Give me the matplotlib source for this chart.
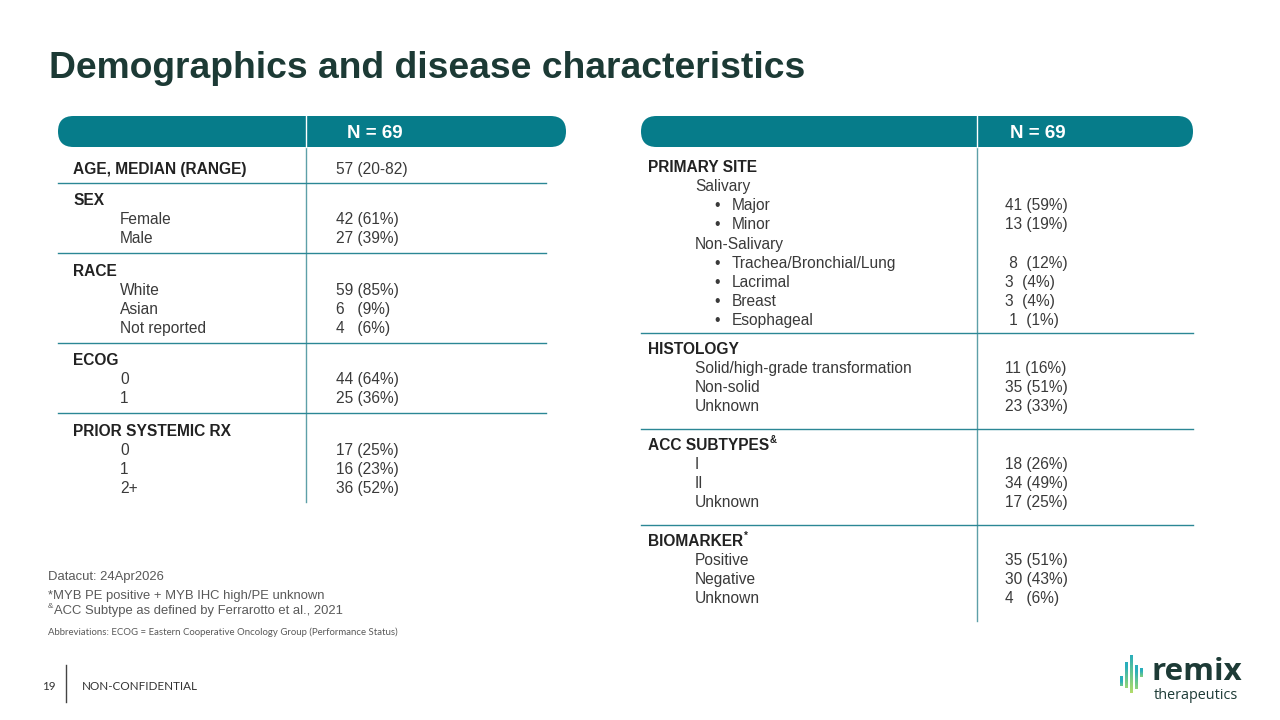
import numpy as np
import matplotlib.pyplot as plt
from matplotlib.patches import FancyBboxPatch

# ---- table contents ----
n_label = "N = 69"

age_label = "AGE, MEDIAN (RANGE)"
age_value = "57 (20-82)"
sex_labels = ["Female", "Male"]
sex_values = ["42 (61%)", "27 (39%)"]
race_labels = ["White", "Asian", "Not reported"]
race_values = ["59 (85%)", "6   (9%)", "4   (6%)"]
ecog_labels = ["0", "1"]
ecog_values = ["44 (64%)", "25 (36%)"]
prior_labels = ["0", "1", "2+"]
prior_values = ["17 (25%)", "16 (23%)", "36 (52%)"]

salivary_labels = ["Major", "Minor"]
salivary_values = ["41 (59%)", "13 (19%)"]
nonsalivary_labels = ["Trachea/Bronchial/Lung", "Lacrimal", "Breast", "Esophageal"]
nonsalivary_values = [" 8  (12%)", "3  (4%)", "3  (4%)", " 1  (1%)"]
histology_labels = ["Solid/high-grade transformation", "Non-solid", "Unknown"]
histology_values = ["11 (16%)", "35 (51%)", "23 (33%)"]
acc_labels = ["I", "II", "Unknown"]
acc_values = ["18 (26%)", "34 (49%)", "17 (25%)"]
bio_labels = ["Positive", "Negative", "Unknown"]
bio_values = ["35 (51%)", "30 (43%)", "4   (6%)"]

footnotes = ["*MYB PE positive + MYB IHC high/PE unknown",
             "ACC Subtype as defined by Ferrarotto et al., 2021"]
abbrev = "Abbreviations: ECOG = Eastern Cooperative Oncology Group (Performance Status)"

# ---- styles ----
TEAL = "#067c8a"
LINE = "#2b8795"
TITLE_C = "#1c3a35"
HEAD_C = "#222222"
BODY_C = "#3a3a3a"
FONT = ["Liberation Sans", "DejaVu Sans"]
FS = 11.2
STEP = 19
DY = 1.5  # nudge so text sits like the slide

plt.rcParams['font.family'] = FONT

fig = plt.figure(figsize=(12.8, 7.2), dpi=100)
ax = fig.add_axes([0, 0, 1, 1])
ax.set_xlim(0, 1280)
ax.set_ylim(720, 0)
ax.axis('off')

ax.text(49, 68, "Demographics and disease characteristics", fontsize=26.8,
        fontweight='bold', color=TITLE_C, va='center', ha='left')


def header_bar(x0, x1, xdiv, xtxt):
    ax.add_patch(FancyBboxPatch((x0, 116), x1 - x0, 31,
                                boxstyle="round,pad=0,rounding_size=15.5",
                                fc=TEAL, ec='none', zorder=2))
    ax.plot([xdiv, xdiv], [116, 147], color='white', lw=1, zorder=3)
    ax.text(xtxt, 133, n_label, color='white', fontsize=13.5, fontweight='bold',
            ha='center', va='center', zorder=4)


def head(x, y, s, sup=None):
    t = ax.text(x, y + DY, s, fontsize=FS, fontweight='bold', color=HEAD_C,
                ha='left', va='center')
    if sup:
        fig.canvas.draw()
        bb = t.get_window_extent()
        ax.text(bb.x1 + 0.5, y - 4, sup, fontsize=7, fontweight='bold',
                color=HEAD_C, ha='left', va='center')


def rows(x_lab, x_val, y0, labels, values, bullet=False):
    for i, (lab, val) in enumerate(zip(labels, values)):
        y = y0 + i * STEP + DY
        if bullet:
            ax.text(x_lab + 13, y, "\u2022", fontsize=FS, color=BODY_C,
                    ha='left', va='center')
            ax.text(x_lab + 31, y, lab, fontsize=FS, color=BODY_C,
                    ha='left', va='center')
        else:
            ax.text(x_lab, y, lab, fontsize=FS, color=BODY_C,
                    ha='left', va='center')
        ax.text(x_val, y, val, fontsize=FS, color=BODY_C,
                ha='left', va='center')


# ---- left table ----
header_bar(58, 566, 306, 375)
ax.plot([306, 306], [147, 502], color="#5d9fa8", lw=1)
for y in [183, 253, 343, 413]:
    ax.plot([58, 546], [y, y], color=LINE, lw=1)

head(73, 168, age_label)
ax.text(336, 168 + DY, age_value, fontsize=FS, color=BODY_C, va='center')
head(73, 199, "SEX")
rows(120, 336, 218, sex_labels, sex_values)
head(73, 270, "RACE")
rows(120, 336, 289, race_labels, race_values)
head(73, 359, "ECOG")
rows(120, 336, 378, ecog_labels, ecog_values)
head(73, 430, "PRIOR SYSTEMIC RX")
rows(120, 336, 449, prior_labels, prior_values)

# ---- right table ----
header_bar(641, 1193, 977, 1038)
ax.plot([977, 977], [147, 621], color="#5d9fa8", lw=1)
for y in [333, 429, 525]:
    ax.plot([641, 1193], [y, y], color=LINE, lw=1)

head(648, 166, "PRIMARY SITE")
ax.text(695, 185 + DY, "Salivary", fontsize=FS, color=BODY_C, va='center')
rows(701, 1005, 204, salivary_labels, salivary_values, bullet=True)
ax.text(695, 243 + DY, "Non-Salivary", fontsize=FS, color=BODY_C, va='center')
rows(701, 1005, 262, nonsalivary_labels, nonsalivary_values, bullet=True)
head(648, 348, "HISTOLOGY")
rows(695, 1005, 367, histology_labels, histology_values)
head(648, 444, "ACC SUBTYPES", sup="&")
rows(695, 1005, 463, acc_labels, acc_values)
head(648, 540, "BIOMARKER", sup="*")
rows(695, 1005, 559, bio_labels, bio_values)

# ---- footnotes ----
FN_C = "#595959"
ax.text(48, 577, "Datacut: 24Apr2026", fontsize=9.4, color=FN_C, va='center')
ax.text(48, 596, footnotes[0], fontsize=9.4, color=FN_C, va='center')
ax.text(48, 607, "&", fontsize=5.8, color=FN_C, va='center')
ax.text(54, 611, footnotes[1], fontsize=9.4, color=FN_C, va='center')
ax.text(48, 632, abbrev, fontsize=6.9, color=FN_C, va='center',
        family=["Lato", "DejaVu Sans"])

# ---- footer ----
ax.text(42, 686, "19", fontsize=8.4, color="#333333", va='center',
        family=["Lato", "DejaVu Sans"])
ax.plot([66, 66], [665, 702], color="#444444", lw=1)
ax.text(82, 686, "NON-CONFIDENTIAL", fontsize=8.4, color="#333333", va='center',
        family=["Lato", "DejaVu Sans"])

# ---- logo ----
grad = np.linspace(0, 1, 64).reshape(-1, 1)
cmap = plt.matplotlib.colors.LinearSegmentedColormap.from_list(
    "remix", ["#2aaebb", "#6cc88c", "#b2dc6a"])
logo_x = [1121, 1126, 1131, 1136, 1141]
logo_top = [676, 662, 655, 665, 668]
logo_bot = [686, 688, 693, 689, 677]
for x, t, b in zip(logo_x, logo_top, logo_bot):
    ax.imshow(grad, cmap=cmap, extent=(x - 1.3, x + 1.3, b, t), aspect='auto',
              vmin=(t - 655) / 40, vmax=1 + (t - 655) / 40, zorder=5,
              interpolation='bilinear')
ax.set_xlim(0, 1280)
ax.set_ylim(720, 0)
ax.text(1152, 679.5, "remix", fontsize=22.5, fontweight='bold', color="#1d3b36",
        va='baseline', ha='left', family=["Open Sans", "DejaVu Sans"])
ax.text(1154, 699, "therapeutics", fontsize=10.4, color="#1d3b36",
        va='baseline', ha='left', family=["Open Sans", "DejaVu Sans"])

fig.savefig("out.png", dpi=100)
